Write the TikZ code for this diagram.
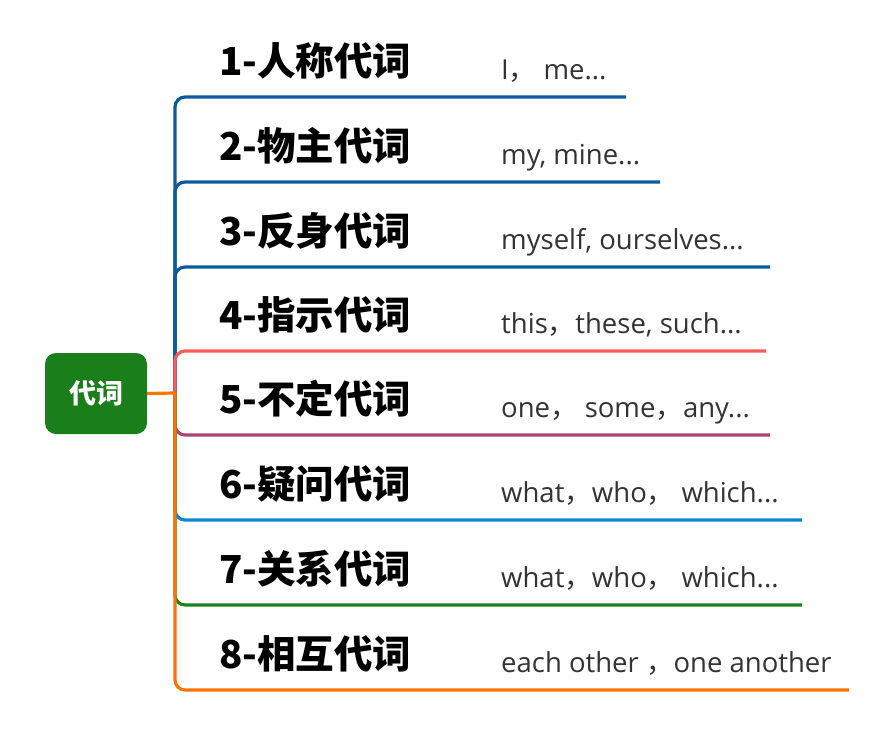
\documentclass[tikz,border=0pt]{standalone}
\usepackage{fontspec}
\setmainfont{Noto Sans CJK SC}
\newfontfamily\latinfont{Open Sans}
\newfontfamily\cjkfont{Noto Sans CJK SC}
\newcommand{\fwc}{{\cjkfont ，}}
\definecolor{cblue}{RGB}{11,90,160}
\definecolor{cred}{RGB}{255,90,90}
\definecolor{cpurple}{RGB}{168,68,120}
\definecolor{clblue}{RGB}{10,134,208}
\definecolor{cgreen}{RGB}{26,130,30}
\definecolor{corange}{RGB}{255,115,0}
\definecolor{croot}{RGB}{26,127,26}
\definecolor{ctext}{RGB}{51,51,51}
\tikzset{
  rootbox/.style={fill=croot, rounded corners=11pt, minimum width=102pt, minimum height=81pt, text=white, font=\bfseries\fontsize{27}{30}\selectfont, inner sep=0pt},
  heading/.style={anchor=base west, inner sep=0pt, font=\bfseries\fontsize{38.5}{42}\selectfont, text=black},
  subtext/.style={anchor=base west, inner sep=0pt, font=\latinfont\fontsize{27.5}{31}\selectfont, text=ctext},
  branch/.style={line width=3.2pt, rounded corners=10pt},
}
\begin{document}
\begin{tikzpicture}[x=1pt,y=-1pt]
\useasboundingbox (0,0) rectangle (870,750);
\node[rootbox] (root) at (96,393.5) {代词};
\coordinate (hub) at (175,393);
% end points of underlines
\coordinate (e1) at (626,97);
\coordinate (e2) at (660,182);
\coordinate (e3) at (770,267);
\coordinate (e4) at (766,351);
\coordinate (e5) at (770,435);
\coordinate (e6) at (802,520);
\coordinate (e7) at (802,605);
\coordinate (e8) at (849,690);
% headings
\node[heading] (h1) at (219,75) {1-人称代词};
\node[heading] (h2) at (219,160) {2-物主代词};
\node[heading] (h3) at (219,245) {3-反身代词};
\node[heading] (h4) at (219,329) {4-指示代词};
\node[heading] (h5) at (219,413) {5-不定代词};
\node[heading] (h6) at (219,498) {6-疑问代词};
\node[heading] (h7) at (219,583) {7-关系代词};
\node[heading] (h8) at (219,668) {8-相互代词};
% sub texts
\node[subtext] (s1) at (501,79) {I\fwc{} me...};
\node[subtext] (s2) at (501,164) {my, mine...};
\node[subtext] (s3) at (501,249) {myself, ourselves...};
\node[subtext] (s4) at (501,333) {this\fwc these, such...};
\node[subtext] (s5) at (501,417) {one\fwc{} some\fwc any...};
\node[subtext] (s6) at (501,502) {what\fwc who\fwc{} which...};
\node[subtext] (s7) at (501,587) {what\fwc who\fwc{} which...};
\node[subtext] (s8) at (501,672) {each other \fwc one another};
% branches
\draw[branch, cblue] (hub) |- (e1);
\draw[branch, cblue] (hub) |- (e2);
\draw[branch, cblue] (hub) |- (e3);
\draw[branch, cred] (hub) |- (e4);
\draw[branch, cpurple] (hub) |- (e5);
\draw[branch, clblue] (hub) |- (e6);
\draw[branch, cgreen] (hub) |- (e7);
\draw[branch, corange] (hub) |- (e8);
\draw[line width=3.2pt, corange] (root.east) -- (hub);
\end{tikzpicture}
\end{document}
